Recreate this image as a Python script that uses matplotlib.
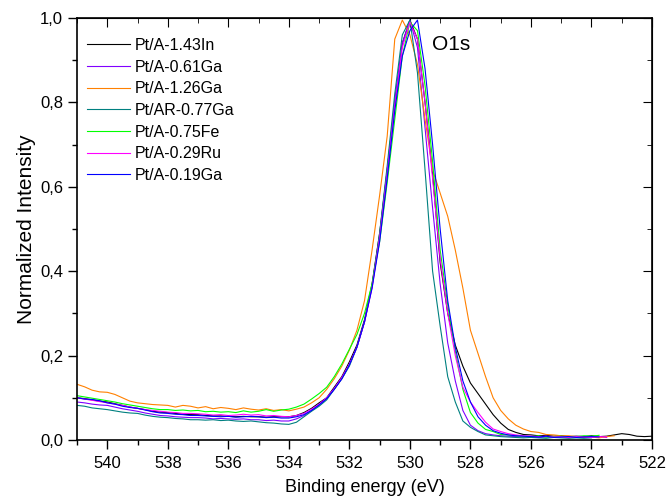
import matplotlib

matplotlib.use("Agg")
import matplotlib.pyplot as plt
import numpy as np
from matplotlib.ticker import FuncFormatter, MultipleLocator

plt.rcParams["font.family"] = ["Liberation Sans", "DejaVu Sans"]

NAN = np.nan

# Binding energy grid (eV), 541 -> 522 in 0.25 eV steps.
energy = np.arange(541.0, 521.99, -0.25)

labels = [
    "Pt/A-1.43In",
    "Pt/A-0.61Ga",
    "Pt/A-1.26Ga",
    "Pt/AR-0.77Ga",
    "Pt/A-0.75Fe",
    "Pt/A-0.29Ru",
    "Pt/A-0.19Ga",
]
colors = ["#000000", "#8000ff", "#ff8000", "#008080", "#00ff00", "#ff00ff", "#0000ff"]

in_143 = [
    0.100, 0.098, 0.095, 0.092, 0.090, 0.086, 0.082, 0.078, 0.075, 0.072, 0.068,
    0.066, 0.065, 0.063, 0.061, 0.060, 0.060, 0.058, 0.057, 0.057, 0.056, 0.055,
    0.056, 0.055, 0.055, 0.054, 0.055, 0.055, 0.055, 0.058, 0.065, 0.075, 0.088,
    0.100, 0.125, 0.150, 0.185, 0.225, 0.285, 0.370, 0.490, 0.640, 0.800, 0.940,
    0.995, 0.950, 0.800, 0.630, 0.420, 0.300, 0.225, 0.175, 0.135, 0.110, 0.085,
    0.060, 0.040, 0.025, 0.018, 0.013, 0.012, 0.010, 0.011, 0.009, 0.010, 0.008,
    0.009, 0.008, 0.010, 0.008, 0.009, 0.012, 0.015, 0.013, 0.009, 0.008, 0.009,
]
ga_061 = [
    0.090, 0.088, 0.085, 0.083, 0.082, 0.078, 0.074, 0.071, 0.068, 0.064, 0.061,
    0.058, 0.057, 0.055, 0.054, 0.053, 0.053, 0.052, 0.050, 0.051, 0.050, 0.049,
    0.050, 0.048, 0.048, 0.046, 0.047, 0.045, 0.045, 0.050, 0.058, 0.070, 0.083,
    0.098, 0.120, 0.145, 0.178, 0.220, 0.280, 0.365, 0.480, 0.640, 0.800, 0.940,
    0.995, 0.930, 0.740, 0.550, 0.370, 0.230, 0.140, 0.070, 0.035, 0.022, 0.015,
    0.012, 0.010, 0.009, 0.008, 0.007, 0.008, 0.006, 0.007, 0.006, 0.008, 0.006,
    0.007, 0.006, 0.007, 0.008, 0.006, NAN, NAN, NAN, NAN, NAN, NAN,
]
ga_126 = [
    0.132, 0.126, 0.118, 0.114, 0.113, 0.108, 0.100, 0.092, 0.088, 0.086, 0.084,
    0.083, 0.082, 0.078, 0.082, 0.080, 0.076, 0.079, 0.074, 0.077, 0.075, 0.072,
    0.076, 0.073, 0.071, 0.074, 0.070, 0.072, 0.069, 0.073, 0.078, 0.088, 0.100,
    0.120, 0.145, 0.175, 0.213, 0.260, 0.330, 0.450, 0.580, 0.720, 0.950, 0.995,
    0.960, 0.890, 0.760, 0.640, 0.585, 0.530, 0.450, 0.360, 0.260, 0.205, 0.150,
    0.100, 0.070, 0.050, 0.035, 0.026, 0.020, 0.018, 0.013, 0.012, 0.010, 0.010,
    0.008, 0.006, 0.007, 0.005, 0.008, 0.010, NAN, NAN, NAN, NAN, NAN,
]
ga_077 = [
    0.082, 0.080, 0.076, 0.074, 0.072, 0.069, 0.066, 0.064, 0.063, 0.059, 0.056,
    0.054, 0.053, 0.051, 0.050, 0.048, 0.048, 0.047, 0.048, 0.046, 0.047, 0.045,
    0.044, 0.045, 0.043, 0.041, 0.040, 0.038, 0.037, 0.042, 0.055, 0.068, 0.080,
    0.095, 0.120, 0.145, 0.175, 0.220, 0.280, 0.365, 0.490, 0.650, 0.820, 0.960,
    0.995, 0.870, 0.640, 0.400, 0.270, 0.150, 0.090, 0.045, 0.030, 0.020, 0.012,
    0.010, 0.008, 0.007, 0.006, 0.005, 0.006, 0.005, 0.004, 0.006, 0.005, 0.004,
    0.005, 0.004, 0.005, NAN, NAN, NAN, NAN, NAN, NAN, NAN, NAN,
]
fe_075 = [
    0.105, 0.102, 0.099, 0.096, 0.093, 0.090, 0.086, 0.083, 0.080, 0.077, 0.074,
    0.072, 0.072, 0.070, 0.071, 0.069, 0.070, 0.067, 0.068, 0.066, 0.067, 0.065,
    0.069, 0.066, 0.068, 0.072, 0.068, 0.071, 0.073, 0.078, 0.085, 0.097, 0.110,
    0.125, 0.150, 0.180, 0.215, 0.250, 0.300, 0.370, 0.470, 0.610, 0.760, 0.910,
    0.990, 0.970, 0.840, 0.660, 0.450, 0.320, 0.210, 0.120, 0.065, 0.040, 0.025,
    0.020, 0.013, 0.012, 0.010, 0.009, 0.008, 0.010, 0.007, 0.008, 0.009, 0.007,
    0.008, 0.010, 0.009, 0.011, NAN, NAN, NAN, NAN, NAN, NAN, NAN,
]
ru_029 = [
    0.100, 0.097, 0.094, 0.091, 0.088, 0.085, 0.082, 0.078, 0.075, 0.072, 0.070,
    0.068, 0.066, 0.065, 0.063, 0.063, 0.062, 0.061, 0.059, 0.060, 0.058, 0.059,
    0.061, 0.059, 0.060, 0.057, 0.058, 0.056, 0.055, 0.058, 0.063, 0.073, 0.085,
    0.100, 0.122, 0.148, 0.180, 0.220, 0.280, 0.360, 0.480, 0.630, 0.790, 0.930,
    0.990, 0.950, 0.800, 0.620, 0.430, 0.300, 0.200, 0.125, 0.090, 0.065, 0.042,
    0.026, 0.020, 0.015, 0.012, 0.010, 0.009, 0.008, 0.009, 0.007, 0.008, 0.006,
    0.008, 0.007, 0.006, 0.008, 0.007, NAN, NAN, NAN, NAN, NAN, NAN,
]
ga_019 = [
    0.100, 0.097, 0.096, 0.093, 0.088, 0.085, 0.080, 0.077, 0.075, 0.071, 0.067,
    0.064, 0.063, 0.061, 0.060, 0.058, 0.058, 0.057, 0.056, 0.055, 0.056, 0.054,
    0.055, 0.056, 0.055, 0.053, 0.054, 0.052, 0.052, 0.055, 0.060, 0.070, 0.083,
    0.098, 0.120, 0.145, 0.178, 0.220, 0.280, 0.360, 0.470, 0.620, 0.780, 0.910,
    0.970, 0.995, 0.880, 0.700, 0.500, 0.330, 0.220, 0.140, 0.090, 0.055, 0.035,
    0.022, 0.016, 0.012, 0.010, 0.009, 0.008, 0.007, 0.009, 0.006, 0.007, 0.008,
    0.006, 0.007, 0.008, 0.007, NAN, NAN, NAN, NAN, NAN, NAN, NAN,
]

series = [in_143, ga_061, ga_126, ga_077, fe_075, ru_029, ga_019]


def comma(value, _pos):
    return f"{value:.1f}".replace(".", ",")


def main() -> None:
    fig = plt.figure(figsize=(6.66, 4.98), dpi=100)
    ax = fig.add_axes([0.1156, 0.1165, 0.8634, 0.8474])

    for values, label, color in zip(series, labels, colors):
        ax.plot(energy, values, color=color, linewidth=0.8, label=label)

    ax.set_xlim(541, 522)
    ax.set_ylim(0, 1.0)

    ax.xaxis.set_major_locator(MultipleLocator(2))
    ax.xaxis.set_minor_locator(MultipleLocator(1))
    ax.yaxis.set_major_locator(MultipleLocator(0.2))
    ax.yaxis.set_minor_locator(MultipleLocator(0.1))
    ax.yaxis.set_major_formatter(FuncFormatter(comma))

    ax.tick_params(which="both", direction="out", top=False, right=False, width=1)
    ax.tick_params(which="major", length=6.5, labelsize=12)
    ax.tick_params(axis="x", which="major", pad=5)
    ax.tick_params(axis="y", which="major", pad=3.5)
    ax.tick_params(which="minor", length=3.6)
    for spine in ax.spines.values():
        spine.set_linewidth(1.2)

    # Inward ticks on the top and right frame.
    top = ax.secondary_xaxis("top")
    top.set_xticks(ax.get_xticks(minor=False))
    top.xaxis.set_minor_locator(MultipleLocator(1))
    top.tick_params(which="both", direction="in", labeltop=False)
    top.tick_params(which="major", length=6.5)
    top.tick_params(which="minor", length=3.6)
    right = ax.secondary_yaxis("right")
    right.yaxis.set_major_locator(MultipleLocator(0.2))
    right.yaxis.set_minor_locator(MultipleLocator(0.1))
    right.tick_params(which="both", direction="in", labelright=False)
    right.tick_params(which="major", length=6.5)
    right.tick_params(which="minor", length=3.6)

    ax.set_xlabel("Binding energy (eV)", fontsize=13, labelpad=6)
    ax.set_ylabel("Normalized Intensity", fontsize=15, labelpad=3)

    ax.text(529.28, 0.936, "O1s", fontsize=15, ha="left", va="center")

    ax.legend(
        loc="upper left",
        bbox_to_anchor=(0.017, 0.953),
        frameon=False,
        fontsize=11.5,
        handlelength=2.7,
        handletextpad=0.31,
        labelspacing=0.42,
        borderpad=0,
        borderaxespad=0,
    )

    fig.savefig("out.png", dpi=100)


if __name__ == "__main__":
    main()
